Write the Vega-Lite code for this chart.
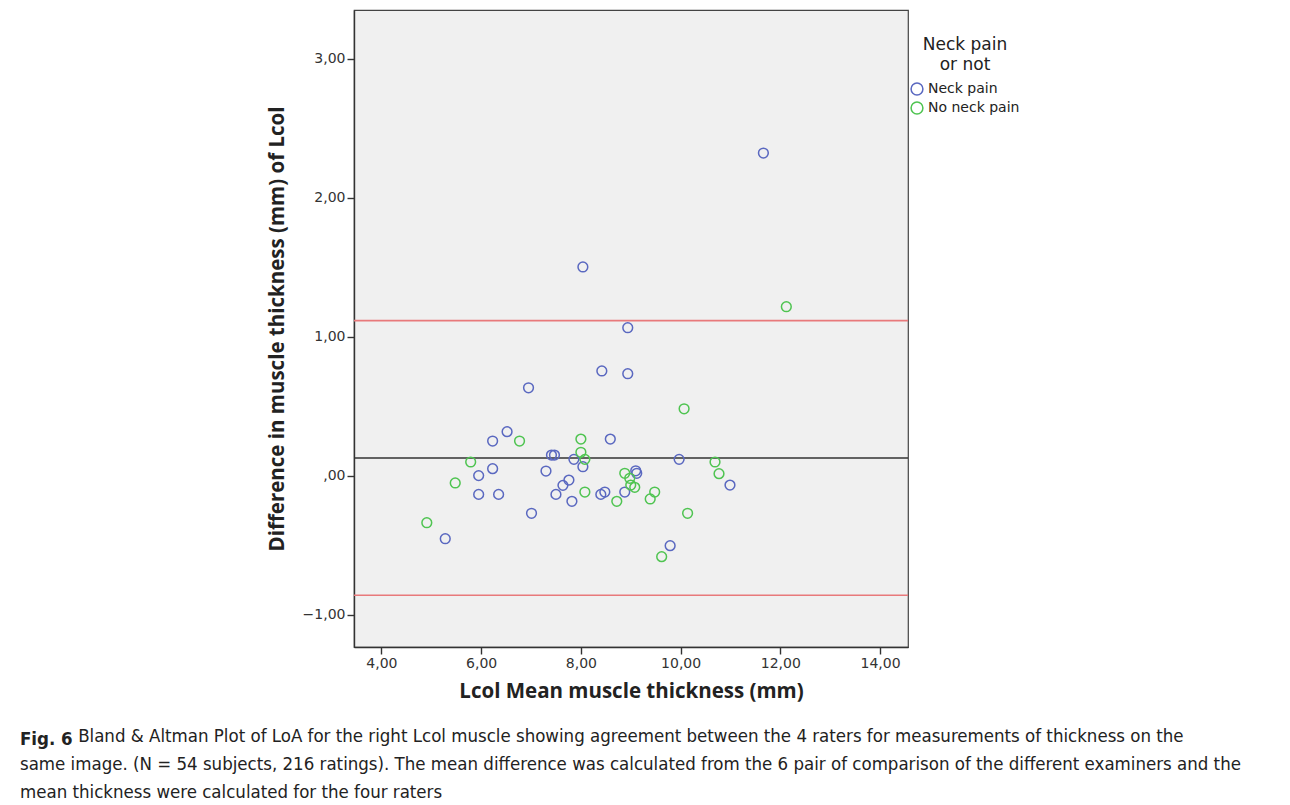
{
  "$schema": "https://vega.github.io/schema/vega-lite/v6.json",
  "autosize": "none",
  "width": 554,
  "height": 637,
  "padding": {"left": 354, "top": 10, "right": 382, "bottom": 158},
  "background": "white",
  "datasets": {
    "points": [
      {"mean": 11.66, "diff": 2.321, "group": "Neck pain"},
      {"mean": 8.04, "diff": 1.501, "group": "Neck pain"},
      {"mean": 8.94, "diff": 1.064, "group": "Neck pain"},
      {"mean": 8.42, "diff": 0.753, "group": "Neck pain"},
      {"mean": 8.94, "diff": 0.733, "group": "Neck pain"},
      {"mean": 6.95, "diff": 0.632, "group": "Neck pain"},
      {"mean": 6.52, "diff": 0.316, "group": "Neck pain"},
      {"mean": 6.23, "diff": 0.249, "group": "Neck pain"},
      {"mean": 8.59, "diff": 0.263, "group": "Neck pain"},
      {"mean": 7.47, "diff": 0.148, "group": "Neck pain"},
      {"mean": 7.41, "diff": 0.148, "group": "Neck pain"},
      {"mean": 7.86, "diff": 0.117, "group": "Neck pain"},
      {"mean": 8.04, "diff": 0.064, "group": "Neck pain"},
      {"mean": 6.23, "diff": 0.05, "group": "Neck pain"},
      {"mean": 5.95, "diff": 0.0, "group": "Neck pain"},
      {"mean": 7.3, "diff": 0.033, "group": "Neck pain"},
      {"mean": 9.1, "diff": 0.035, "group": "Neck pain"},
      {"mean": 9.12, "diff": 0.017, "group": "Neck pain"},
      {"mean": 7.76, "diff": -0.032, "group": "Neck pain"},
      {"mean": 7.64, "diff": -0.07, "group": "Neck pain"},
      {"mean": 5.95, "diff": -0.135, "group": "Neck pain"},
      {"mean": 6.35, "diff": -0.135, "group": "Neck pain"},
      {"mean": 7.5, "diff": -0.135, "group": "Neck pain"},
      {"mean": 8.4, "diff": -0.135, "group": "Neck pain"},
      {"mean": 8.48, "diff": -0.118, "group": "Neck pain"},
      {"mean": 8.88, "diff": -0.118, "group": "Neck pain"},
      {"mean": 7.82, "diff": -0.185, "group": "Neck pain"},
      {"mean": 7.01, "diff": -0.271, "group": "Neck pain"},
      {"mean": 5.28, "diff": -0.454, "group": "Neck pain"},
      {"mean": 9.97, "diff": 0.117, "group": "Neck pain"},
      {"mean": 10.99, "diff": -0.068, "group": "Neck pain"},
      {"mean": 9.79, "diff": -0.504, "group": "Neck pain"},
      {"mean": 12.12, "diff": 1.215, "group": "No neck pain"},
      {"mean": 10.07, "diff": 0.481, "group": "No neck pain"},
      {"mean": 6.77, "diff": 0.249, "group": "No neck pain"},
      {"mean": 8.0, "diff": 0.263, "group": "No neck pain"},
      {"mean": 8.0, "diff": 0.168, "group": "No neck pain"},
      {"mean": 5.79, "diff": 0.098, "group": "No neck pain"},
      {"mean": 8.08, "diff": 0.117, "group": "No neck pain"},
      {"mean": 8.88, "diff": 0.017, "group": "No neck pain"},
      {"mean": 8.98, "diff": -0.019, "group": "No neck pain"},
      {"mean": 9.0, "diff": -0.068, "group": "No neck pain"},
      {"mean": 9.08, "diff": -0.084, "group": "No neck pain"},
      {"mean": 5.48, "diff": -0.053, "group": "No neck pain"},
      {"mean": 8.08, "diff": -0.118, "group": "No neck pain"},
      {"mean": 8.72, "diff": -0.185, "group": "No neck pain"},
      {"mean": 9.39, "diff": -0.168, "group": "No neck pain"},
      {"mean": 9.48, "diff": -0.118, "group": "No neck pain"},
      {"mean": 4.91, "diff": -0.339, "group": "No neck pain"},
      {"mean": 10.69, "diff": 0.098, "group": "No neck pain"},
      {"mean": 10.77, "diff": 0.014, "group": "No neck pain"},
      {"mean": 10.14, "diff": -0.271, "group": "No neck pain"},
      {"mean": 9.62, "diff": -0.583, "group": "No neck pain"}
    ],
    "lines": [
      {"stat": "Upper LoA", "value": 1.115},
      {"stat": "Mean difference", "value": 0.127},
      {"stat": "Lower LoA", "value": -0.861}
    ]
  },
  "title": {
    "text": "Fig. 6",
    "subtitle": [
      "\u200b\u00a0\u00a0\u00a0\u00a0\u00a0\u00a0\u00a0\u00a0\u00a0\u00a0\u00a0Bland & Altman Plot of LoA for the right Lcol muscle showing agreement between the 4 raters for measurements of thickness on the",
      "same image. (N = 54 subjects, 216 ratings). The mean difference was calculated from the 6 pair of comparison of the different examiners and the",
      "mean thickness were calculated for the four raters"
    ],
    "orient": "bottom",
    "anchor": "start",
    "frame": "group",
    "dx": -334,
    "offset": 28,
    "font": "DejaVu Sans Condensed",
    "fontSize": 18.5,
    "fontWeight": "bold",
    "color": "#222",
    "subtitleFont": "DejaVu Sans Condensed",
    "subtitleFontSize": 18.5,
    "subtitleColor": "#222",
    "subtitleLineHeight": 28,
    "subtitlePadding": -21
  },
  "layer": [
    {
      "data": {"name": "lines"},
      "transform": [{"filter": "datum.stat != 'Mean difference'"}],
      "mark": {"type": "rule", "color": "#e8797b", "strokeWidth": 1.6},
      "encoding": {"y": {"field": "value", "type": "quantitative"}}
    },
    {
      "data": {"name": "lines"},
      "transform": [{"filter": "datum.stat == 'Mean difference'"}],
      "mark": {"type": "rule", "color": "#333333", "strokeWidth": 1.4},
      "encoding": {"y": {"field": "value", "type": "quantitative"}}
    },
    {
      "data": {"name": "points"},
      "mark": {"type": "point", "shape": "circle", "filled": false, "size": 95, "strokeWidth": 1.5, "opacity": 1},
      "encoding": {
        "x": {
          "field": "mean", "type": "quantitative",
          "scale": {"domain": [3.45, 14.56], "nice": false, "zero": false},
          "axis": {
            "title": "Lcol Mean muscle thickness (mm)",
            "values": [4, 6, 8, 10, 12, 14],
            "labelExpr": "replace(format(datum.value, '.2f'), '.', ',')",
            "titlePadding": 11
          }
        },
        "y": {
          "field": "diff", "type": "quantitative",
          "scale": {"domain": [-1.233, 3.35], "nice": false, "zero": false},
          "axis": {
            "title": "Difference in muscle thickness (mm) of Lcol",
            "values": [-1, 0, 1, 2, 3],
            "labelExpr": "datum.value == 0 ? ',00' : replace(format(datum.value, '.2f'), '.', ',')",
            "titlePadding": 15
          }
        },
        "color": {
          "field": "group", "type": "nominal",
          "scale": {"domain": ["Neck pain", "No neck pain"], "range": ["#5a68c0", "#4fc451"]},
          "legend": {
            "title": ["Neck pain", "or not"],
            "orient": "none",
            "legendX": 556,
            "legendY": 27,
            "titleAlign": "center",
            "titleAnchor": "middle",
            "titleFont": "DejaVu Sans",
            "titleFontSize": 17,
            "titleFontWeight": "normal",
            "titleColor": "#222",
            "titleLineHeight": 20,
            "titlePadding": 8,
            "labelFont": "DejaVu Sans",
            "labelFontSize": 14,
            "labelColor": "#222",
            "labelOffset": 4,
            "symbolType": "circle",
            "symbolFillColor": "transparent",
            "symbolStrokeWidth": 1.5,
            "symbolSize": 140,
            "rowPadding": 1,
            "padding": 0
          }
        }
      }
    }
  ],
  "config": {
    "view": {"fill": "#f0f0f0", "stroke": "#444", "strokeWidth": 1.2},
    "axis": {
      "grid": false,
      "domainColor": "#333",
      "domainWidth": 1.4,
      "tickColor": "#333",
      "tickSize": 7,
      "tickWidth": 1.4,
      "labelFont": "DejaVu Sans",
      "labelFontSize": 14,
      "labelColor": "#333",
      "titleFont": "Open Sans",
      "titleFontSize": 20.5,
      "titleFontWeight": "bold",
      "titleColor": "#222"
    }
  }
}
